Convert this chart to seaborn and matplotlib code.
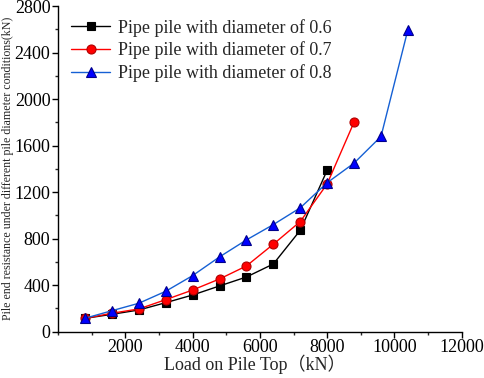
import matplotlib
matplotlib.use("Agg")
import matplotlib.pyplot as plt
import seaborn as sns
import pandas as pd
from matplotlib.ticker import MultipleLocator

loads_06 = [800, 1600, 2400, 3200, 4000, 4800, 5600, 6400, 7200, 8000]
res_06 = [113, 148, 185, 248, 314, 392, 469, 581, 871, 1388]
loads_07 = [800, 1600, 2400, 3200, 4000, 4800, 5600, 6400, 7200, 8000, 8800]
res_07 = [113, 157, 194, 274, 357, 452, 564, 751, 946, 1270, 1802]
loads_08 = [800, 1600, 2400, 3200, 4000, 4800, 5600, 6400, 7200, 8000, 8800, 9600, 10400]
res_08 = [114, 179, 243, 346, 481, 642, 788, 920, 1064, 1280, 1449, 1678, 2597]
series_names = ["Pipe pile with diameter of 0.6",
                "Pipe pile with diameter of 0.7",
                "Pipe pile with diameter of 0.8"]

frames = []
for name, xs, ys in zip(series_names, [loads_06, loads_07, loads_08], [res_06, res_07, res_08]):
    frames.append(pd.DataFrame({"load": xs, "res": ys, "series": name}))
df = pd.concat(frames, ignore_index=True)

sns.set_style("ticks")
plt.rcParams["font.family"] = ["Liberation Serif", "Noto Sans CJK SC"]
plt.rcParams["xtick.direction"] = "out"
plt.rcParams["ytick.direction"] = "out"

fig = plt.figure(figsize=(4.84, 3.78), dpi=100)
ax = fig.add_axes([0.12, 0.123, 0.834, 0.861])

palette = {series_names[0]: "#000000", series_names[1]: "#ff0000", series_names[2]: "#1560d4"}
markers = {series_names[0]: "s", series_names[1]: "o", series_names[2]: "^"}
face = {series_names[0]: "#000000", series_names[1]: "#ff0000", series_names[2]: "#0000ff"}
edge = {series_names[0]: "#000000", series_names[1]: "#b00000", series_names[2]: "#00008b"}
msize = {series_names[0]: 5.5, series_names[1]: 6.5, series_names[2]: 7}

for name in series_names:
    sub = df[df["series"] == name]
    sns.lineplot(data=sub, x="load", y="res", ax=ax, color=palette[name],
                 marker=markers[name], markersize=msize[name],
                 markerfacecolor=face[name], markeredgecolor=edge[name],
                 markeredgewidth=0.8, linewidth=1.0, label=name)

ax.set_xlim(0, 12000)
ax.set_ylim(0, 2800)
ax.set_xticks([2000, 4000, 6000, 8000, 10000, 12000])
ax.xaxis.set_minor_locator(MultipleLocator(1000))
ax.yaxis.set_major_locator(MultipleLocator(400))
ax.yaxis.set_minor_locator(MultipleLocator(200))
ax.tick_params(axis="both", which="major", length=4, width=1, labelsize=13, colors="black", pad=1.5)
ax.tick_params(axis="both", which="minor", length=2.5, width=1)
for s in ["top", "right"]:
    ax.spines[s].set_visible(False)
for s in ["left", "bottom"]:
    ax.spines[s].set_linewidth(1.0)
    ax.spines[s].set_color("black")

ax.set_xlabel("Load on Pile Top（kN）", fontsize=13)
ax.set_ylabel("Pile end resistance under different pile diameter conditions(kN)", fontsize=8.6)
ax.xaxis.set_label_coords(0.486, -0.072)
ax.yaxis.set_label_coords(-0.110, 0.502)

ax.legend(loc="upper left", frameon=False, fontsize=13,
          handlelength=2.2, borderaxespad=0.4, labelspacing=0.28, handletextpad=0.4,
          borderpad=0.3)

fig.savefig("out.png", dpi=100)
